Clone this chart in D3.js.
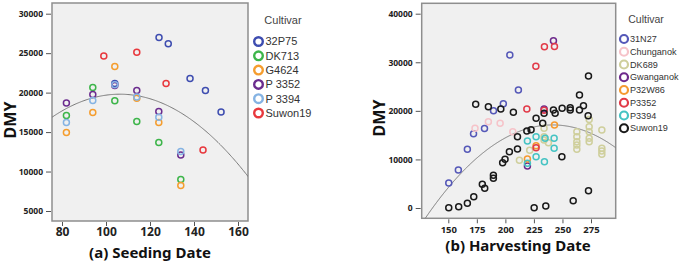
<!DOCTYPE html>
<html>
<head>
<meta charset="utf-8">
<script src="https://cdn.jsdelivr.net/npm/d3@7"></script>
<style>
  body { margin: 0; background: #fff; }
  svg { display: block; }
</style>
</head>
<body>
<svg id="chart" width="680" height="262"></svg>
<script>
// ---- (a) seeding date ----
const seedingCultivars = ["32P75", "DK713", "G4624", "P 3352", "P 3394", "Suwon19"];
const seedingColors = ["#3e4db0", "#3db54a", "#f59d2e", "#6b2c8e", "#85b3e3", "#e8383d"];
const seeding32P75 = [[104, 21150], [124.1, 27000], [128.3, 26190], [138.2, 21800], [145.2, 20280], [152.3, 17530]];
const seedingDK713 = [[82, 17100], [94, 20650], [104, 18960], [114, 16350], [124, 13680], [134, 8990]];
const seedingG4624 = [[82, 14950], [94, 17490], [104, 23320], [114, 19300], [124, 16220], [134, 8220]];
const seedingP3352 = [[82, 18700], [94, 19770], [104, 20910], [114, 20280], [124, 17610], [134, 12110]];
const seedingP3394 = [[82, 16220], [94, 19010], [104, 21000], [114, 19450], [124, 16890], [134, 12540]];
const seedingSuwon19 = [[99, 24630], [114, 25100], [127.3, 21170], [144.1, 12740]];
const seedingXTicks = [80, 100, 120, 140, 160];
const seedingYTicks = [5000, 10000, 15000, 20000, 25000, 30000];
const seedingFit = [-3.07, 106.3, 19800]; // a, vertex x, vertex y

// ---- (b) harvesting date ----
const harvestCultivars = ["31N27", "Chunganok", "DK689", "Gwanganok", "P32W86", "P3352", "P3394", "Suwon19"];
const harvestColors = ["#5558b8", "#f6c3c9", "#cfcf9c", "#6e2a8c", "#f59a30", "#e23a48", "#45c3c3", "#1a1a1a"];
const harvest31N27 = [[150.4, 5150], [158.8, 7820], [166.7, 12120], [172.1, 15300], [181.7, 16350], [189.6, 20000], [198.2, 21450], [203.9, 31490], [211.4, 24280]];
const harvestChunganok = [[173.4, 16400], [185.1, 17770], [195.4, 17430], [206.5, 15700]];
const harvestDK689 = [[212.3, 9810], [221.3, 11900], [233.9, 16400], [233.9, 14670], [233.9, 13990], [237.7, 13440],
  [262.6, 15700], [262.6, 14670], [262.6, 13640], [262.6, 12960], [262.6, 12080],
  [273.4, 18200], [273.4, 16730], [273.4, 15700], [273.4, 14340], [273.4, 13640],
  [284.5, 16050], [284.5, 12290], [284.5, 11730], [284.5, 11050]];
const harvestGwanganok = [[242.1, 34430], [233.9, 20370], [219.3, 8640]];
const harvestP32W86 = [[243, 17080], [226.9, 12820], [219.3, 10080]];
const harvestP3352 = [[226.7, 29160], [234.2, 33200], [243, 33270], [218.8, 20370], [233.9, 20100], [226.9, 12410]];
const harvestP3394 = [[226.9, 14670], [219.3, 13790], [234.8, 14340], [242.7, 14340], [242.7, 12290], [226.9, 10560], [234.2, 9530], [219.3, 9200]];
const harvestSuwon19 = [[150.4, 60], [159.1, 270], [166.7, 970], [172.3, 2330], [179.8, 4870], [181.9, 4050], [189.5, 6730], [189.5, 6110],
  [197.6, 9320], [199.7, 10020], [203.5, 11590], [210.6, 12140], [210.6, 14670], [218.8, 15850], [222.5, 16110], [226.9, 18460],
  [232.7, 17430], [174, 21340], [185.1, 20850], [196, 20370], [207, 19700], [233.9, 19490], [242.1, 20170], [243.6, 19490],
  [249.7, 20520], [256.8, 20640], [256.8, 20170], [264.9, 20170], [268.4, 21050], [264.9, 23250], [272.8, 27170], [272.5, 19000],
  [249.5, 10560], [225.2, 60], [235.4, 410], [259.4, 1500], [272.8, 3560]];
const harvestXTicks = [150, 175, 200, 225, 250, 275];
const harvestYTicks = [0, 10000, 20000, 30000, 40000];
const harvestFit = [-1.541, 241.5, 17100];

const svg = d3.select("#chart");

function desenharPainel(cfg) {
  const g = svg.append("g");
  const f = cfg.frame;
  const x = d3.scaleLinear().domain(cfg.xDomain).range(cfg.xRange);
  const y = d3.scaleLinear().domain(cfg.yDomain).range(cfg.yRange);

  g.append("rect")
    .attr("x", f.x0).attr("y", f.y0)
    .attr("width", f.x1 - f.x0).attr("height", f.y1 - f.y0)
    .attr("fill", "#f0f0f0").attr("stroke", "#8e8e8e").attr("stroke-width", 1.5);

  // eixo y
  const yAxis = d3.axisLeft(y).tickValues(cfg.yTicks).tickSize(5).tickPadding(3).tickFormat(d3.format("d"));
  const ya = g.append("g").attr("transform", `translate(${f.x0 - 1},0)`).call(yAxis);
  ya.select(".domain").remove();
  ya.selectAll("line").attr("stroke", "#555");
  ya.selectAll("text").attr("font-family", "Noto Sans").attr("font-weight", "bold")
    .attr("font-size", cfg.yFont).attr("fill", "#222");

  // eixo x
  const xAxis = d3.axisBottom(x).tickValues(cfg.xTicks).tickSize(4).tickPadding(cfg.xPad);
  const xa = g.append("g").attr("transform", `translate(0,${f.y1 + 1})`).call(xAxis);
  xa.select(".domain").remove();
  xa.selectAll("line").attr("stroke", "#555");
  xa.selectAll("text").attr("font-family", "Noto Sans").attr("font-weight", "bold")
    .attr("font-size", cfg.xFont).attr("fill", "#222");

  // curva ajustada
  const clipId = "clip" + cfg.id;
  svg.append("clipPath").attr("id", clipId).append("rect")
    .attr("x", f.x0).attr("y", f.y0).attr("width", f.x1 - f.x0).attr("height", f.y1 - f.y0);
  const [a, h, k] = cfg.fit;
  const xs = d3.range(x.invert(f.x0), x.invert(f.x1) + 0.5, 0.5);
  g.append("path")
    .datum(xs)
    .attr("clip-path", `url(#${clipId})`)
    .attr("fill", "none").attr("stroke", "#7a7a7a").attr("stroke-width", 1)
    .attr("d", d3.line().x(d => x(d)).y(d => y(a * (d - h) * (d - h) + k)));

  // pontos
  cfg.series.forEach((pts, i) => {
    g.append("g").selectAll("circle").data(pts).join("circle")
      .attr("cx", d => x(d[0])).attr("cy", d => y(d[1]))
      .attr("r", cfg.r)
      .attr("fill", "none").attr("stroke", cfg.colors[i]).attr("stroke-width", 1.5);
  });

  // titulos
  g.append("text")
    .attr("transform", `translate(${cfg.yLabel[0]},${cfg.yLabel[1]}) rotate(-90)`)
    .attr("text-anchor", "middle").attr("dominant-baseline", "central")
    .attr("font-family", "Noto Sans").attr("font-weight", "bold").attr("font-size", 16)
    .attr("fill", "#111").text("DMY");

  g.append("text")
    .attr("x", cfg.title[0]).attr("y", cfg.title[1])
    .attr("text-anchor", "middle")
    .attr("font-family", "Noto Sans").attr("font-weight", "bold").attr("font-size", cfg.titleFont)
    .attr("fill", "#111").text(cfg.titleText);

  // legenda
  const L = cfg.legend;
  g.append("text")
    .attr("x", L.titleX).attr("y", L.titleY)
    .attr("text-anchor", "middle")
    .attr("font-family", "Liberation Sans").attr("font-size", L.titleFont)
    .attr("fill", "#444").text("Cultivar");
  const items = g.append("g").selectAll("g").data(cfg.names).join("g")
    .attr("transform", (d, i) => `translate(${L.x},${L.y + i * L.step})`);
  items.append("circle").attr("r", L.r)
    .attr("fill", "none").attr("stroke", (d, i) => cfg.colors[i]).attr("stroke-width", L.sw);
  items.append("text").attr("x", L.tx).attr("dy", "0.35em")
    .attr("font-family", "Liberation Sans").attr("font-size", L.font)
    .attr("fill", "#333").text(d => d);
}

desenharPainel({
  id: "a",
  frame: { x0: 52, x1: 248, y0: 3, y1: 221 },
  xDomain: [80, 160], xRange: [62, 238],
  yDomain: [5000, 30000], yRange: [211, 13.7],
  xTicks: seedingXTicks, yTicks: seedingYTicks,
  xFont: 12, yFont: 8.5, xPad: 1,
  fit: seedingFit,
  series: [seeding32P75, seedingDK713, seedingG4624, seedingP3352, seedingP3394, seedingSuwon19],
  names: seedingCultivars, colors: seedingColors, r: 3,
  yLabel: [10, 120],
  title: [150, 258], titleText: "(a) Seeding Date", titleFont: 15,
  legend: { titleX: 283, titleY: 24, titleFont: 11, x: 258.5, y: 41.5, step: 14.3, r: 4.3, sw: 2.4, tx: 7, font: 11 }
});

desenharPainel({
  id: "b",
  frame: { x0: 421.7, x1: 615.7, y0: 3.3, y1: 218.3 },
  xDomain: [150, 275], xRange: [448.3, 591],
  yDomain: [0, 40000], yRange: [208, 13.7],
  xTicks: harvestXTicks, yTicks: harvestYTicks,
  xFont: 9.5, yFont: 8.5, xPad: 3,
  fit: harvestFit,
  series: [harvest31N27, harvestChunganok, harvestDK689, harvestGwanganok, harvestP32W86, harvestP3352, harvestP3394, harvestSuwon19],
  names: harvestCultivars, colors: harvestColors, r: 3,
  yLabel: [379, 118],
  title: [518, 251], titleText: "(b) Harvesting Date", titleFont: 15,
  legend: { titleX: 646, titleY: 23, titleFont: 10.5, x: 624, y: 39, step: 12.75, r: 4, sw: 2.2, tx: 6, font: 9.1 }
});
</script>
</body>
</html>
